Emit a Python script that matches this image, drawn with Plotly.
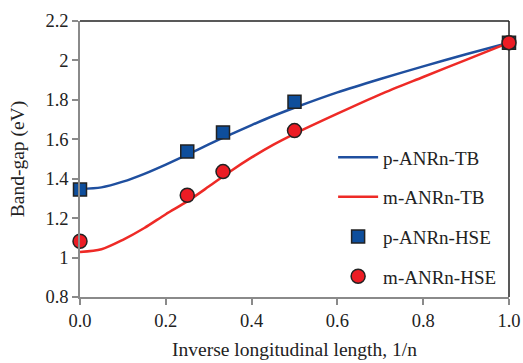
import plotly.graph_objects as go

# TB curves
tb_x = [0, 0.05, 0.1, 0.15, 0.2, 0.25, 0.3, 0.35, 0.4, 0.45, 0.5, 0.6, 0.7, 0.8, 0.9, 1.0]
p_tb = [1.348, 1.356, 1.385, 1.425, 1.472, 1.522, 1.574, 1.624, 1.672, 1.718, 1.76, 1.838, 1.906, 1.97, 2.031, 2.09]
m_tb = [1.028, 1.042, 1.09, 1.15, 1.22, 1.285, 1.36, 1.437, 1.508, 1.572, 1.628, 1.73, 1.828, 1.916, 2.003, 2.09]

# HSE points
hse_x = [0, 0.25, 1/3, 0.5, 1.0]
p_hse = [1.345, 1.538, 1.635, 1.79, 2.09]
m_hse = [1.083, 1.316, 1.436, 1.644, 2.09]

x_ticks = [0, 0.2, 0.4, 0.6, 0.8, 1.0]
x_labels = ["0.0", "0.2", "0.4", "0.6", "0.8", "1.0"]
y_ticks = [0.8, 1.0, 1.2, 1.4, 1.6, 1.8, 2.0, 2.2]
y_labels = ["0.8", "1", "1.2", "1.4", "1.6", "1.8", "2", "2.2"]

BLUE = "#1f4f9f"
RED = "#ee2a26"
GRAY = "#8a8a8a"
FONT = "Liberation Serif"

fig = go.Figure()
fig.add_trace(go.Scatter(x=tb_x, y=p_tb, mode="lines", name="p-ANRn-TB",
                         line=dict(color=BLUE, width=2.5, shape="spline", smoothing=0.8),
                         legendgroup="a"))
fig.add_trace(go.Scatter(x=tb_x, y=m_tb, mode="lines", name="m-ANRn-TB",
                         line=dict(color=RED, width=2.5, shape="spline", smoothing=0.8),
                         legendgroup="b"))
fig.add_trace(go.Scatter(x=hse_x, y=p_hse, mode="markers", name="p-ANRn-HSE",
                         marker=dict(symbol="square", size=13, color="#0e4e9c",
                                     line=dict(color="#222222", width=1.5)),
                         cliponaxis=False, legendgroup="c"))
fig.add_trace(go.Scatter(x=hse_x, y=m_hse, mode="markers", name="m-ANRn-HSE",
                         marker=dict(symbol="circle", size=14, color="#ec1c24",
                                     line=dict(color="#222222", width=1.5)),
                         cliponaxis=False, legendgroup="d"))

fig.update_layout(
    width=523, height=363,
    margin=dict(l=80, r=14, t=21, b=66),
    paper_bgcolor="white", plot_bgcolor="white",
    font=dict(family=FONT, size=18, color="#222222"),
    showlegend=True,
    legend=dict(x=0.59, y=0.575, xanchor="left", yanchor="top",
                bgcolor="rgba(0,0,0,0)", font=dict(size=19, family=FONT),
                tracegroupgap=12, itemwidth=40),
    xaxis=dict(range=[0, 1], tickvals=x_ticks, ticktext=x_labels,
               showgrid=False, zeroline=False, automargin=False,
               showline=True, linecolor=GRAY, linewidth=1.5,
               ticks="outside", ticklen=6, tickcolor=GRAY, tickwidth=1.5,
               tickfont=dict(size=18.5, family=FONT),
               title=dict(text="Inverse longitudinal length, 1/n",
                          font=dict(size=19.5, family=FONT), standoff=12)),
    yaxis=dict(range=[0.8, 2.2], tickvals=y_ticks, ticktext=y_labels,
               showgrid=False, zeroline=False, automargin=False,
               showline=True, linecolor=GRAY, linewidth=1.5,
               ticks="outside", ticklen=6, tickcolor=GRAY, tickwidth=1.5,
               tickfont=dict(size=18.5, family=FONT),
               title=dict(text="Band-gap (eV)",
                          font=dict(size=19.5, family=FONT), standoff=16)),
)
# top and right frame lines (black)
fig.add_shape(type="line", xref="paper", yref="paper", x0=0, x1=1, y0=1, y1=1,
              line=dict(color="#222222", width=1.5), layer="below")
fig.add_shape(type="line", xref="paper", yref="paper", x0=1, x1=1, y0=0, y1=1,
              line=dict(color="#222222", width=1.5), layer="below")

fig.write_html("out.html", config={"displayModeBar": False},
               post_script="document.body.style.margin='0';document.body.style.overflow='hidden';")
